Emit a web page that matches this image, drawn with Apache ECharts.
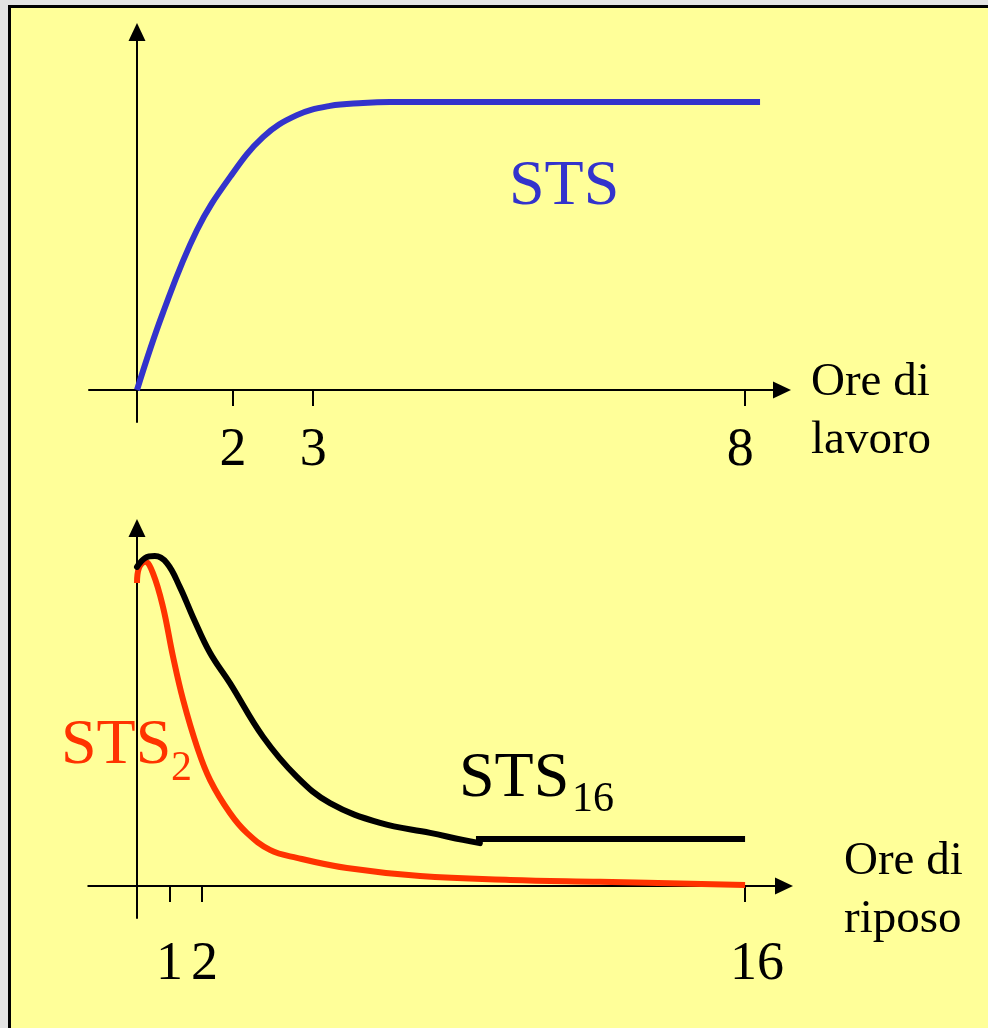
<!DOCTYPE html>
<html>
<head>
<meta charset="utf-8">
<script src="https://cdn.jsdelivr.net/npm/echarts@6/dist/echarts.min.js"></script>
<style>
  html, body { margin: 0; padding: 0; background: #e3e3e3; }
  #box { position: absolute; left: 8px; top: 5px; width: 1000px; height: 1040px;
         background: #FFFF99; border-left: 3px solid #000; border-top: 3px solid #000; }
  #chart { position: absolute; left: 0; top: 0; width: 988px; height: 1028px; }
</style>
</head>
<body>
<div id="box"></div>
<div id="chart"></div>
<script>
// ---- Top panel: STS vs ore di lavoro (schematic units) ----
const stsX = [0, 0.54, 1.25, 1.94, 2.63, 3.33, 4.02, 4.71, 5.27, 12.98];
const stsY = [0, 2.41, 5.0, 6.66, 7.91, 8.59, 8.88, 8.97, 9.0, 9.0];
const topTickPos = [2, 3.67, 12.67];
const topLabelPos = [2, 3.67, 12.57];
const topTickLabels = ['2', '3', '8'];

// ---- Bottom panel: STS2 / STS16 vs ore di riposo ----
const sts2X = [0, 0.06, 0.25, 0.49, 0.8, 1.11, 1.42, 1.85, 2.25, 2.86, 3.38, 4.09, 4.92, 6.46, 8.71, 11.48, 14.25, 18.71];
const sts2Y = [9.47, 9.94, 10.13, 9.78, 8.72, 7.16, 5.81, 4.34, 3.31, 2.28, 1.66, 1.13, 0.88, 0.56, 0.31, 0.19, 0.13, 0.03];
const sts16X = [0, 0.25, 0.55, 0.92, 1.32, 1.72, 2.25, 2.86, 3.88, 4.92, 5.94, 7.48, 9.02, 10.03, 10.55];
const sts16Y = [9.97, 10.25, 10.31, 10.09, 9.34, 8.41, 7.28, 6.34, 4.66, 3.41, 2.59, 1.97, 1.66, 1.44, 1.34];
const sts16FlatX = [10.43, 18.71];
const sts16FlatY = [1.47, 1.47];
const botTickPos = [1, 2, 18.71];
const botLabelPos = [1, 2.08, 19.08];
const botTickLabels = ['1', '2', '16'];

const zip = (xs, ys) => xs.map((x, i) => [x, ys[i]]);
const lookup = (pos, labels) => v => {
  const i = pos.findIndex(p => Math.abs(p - v) < 1e-6);
  return i >= 0 ? labels[i] : '';
};

const FONT = '"Liberation Serif", "Times New Roman", serif';
const axisLineStyle = { color: '#000', width: 2 };

function xAxisCfg(gridIndex, min, max, tickPos, labelPos, labels, margin) {
  return {
    type: 'value', gridIndex, min, max,
    axisLine: { show: true, onZero: true, lineStyle: axisLineStyle, symbol: ['none', 'triangle'], symbolSize: [17, 18] },
    axisTick: { show: true, customValues: tickPos, length: 16, lineStyle: { color: '#000', width: 2 } },
    axisLabel: { show: true, customValues: labelPos, formatter: lookup(labelPos, labels), margin,
                 color: '#000', fontFamily: FONT, fontSize: 54, hideOverlap: false },
    splitLine: { show: false }
  };
}
function yAxisCfg(gridIndex) {
  return {
    type: 'value', gridIndex, min: -1, max: 11.1875,
    axisLine: { show: true, onZero: true, lineStyle: axisLineStyle, symbol: ['none', 'triangle'], symbolSize: [17, 18] },
    axisTick: { show: false }, axisLabel: { show: false }, splitLine: { show: false }
  };
}

const txt = (x, y, text, size, color) => ({
  type: 'text', x, y, style: { text, font: size + 'px ' + FONT, fill: color, verticalAlign: 'middle' }
});

const chart = echarts.init(document.getElementById('chart'), null, { renderer: 'canvas' });
chart.setOption({
  backgroundColor: 'transparent',
  animation: false,
  grid: [
    { left: 89, right: 206, top: 32, bottom: 606 },
    { left: 88.25, right: 204, top: 528, bottom: 110 }
  ],
  xAxis: [
    xAxisCfg(0, -1, 13.4375, topTickPos, topLabelPos, topTickLabels, 2),
    xAxisCfg(1, -1.5, 19.908, botTickPos, botLabelPos, botTickLabels, 20)
  ],
  yAxis: [yAxisCfg(0), yAxisCfg(1)],
  series: [
    { name: 'STS', type: 'line', xAxisIndex: 0, yAxisIndex: 0, data: zip(stsX, stsY),
      smooth: 0.4, symbol: 'none', lineStyle: { color: '#3333CC', width: 6 } },
    { name: 'STS2', type: 'line', xAxisIndex: 1, yAxisIndex: 1, data: zip(sts2X, sts2Y),
      smooth: 0.4, symbol: 'none', lineStyle: { color: '#FF3300', width: 6 } },
    { name: 'STS16', type: 'line', xAxisIndex: 1, yAxisIndex: 1, data: zip(sts16X, sts16Y),
      smooth: 0.4, symbol: 'none', lineStyle: { color: '#000', width: 6, cap: 'round' } },
    { name: 'STS16 plateau', type: 'line', xAxisIndex: 1, yAxisIndex: 1, data: zip(sts16FlatX, sts16FlatY),
      symbol: 'none', lineStyle: { color: '#000', width: 6 } }
  ],
  graphic: [
    txt(509, 187.5, 'STS', 64, '#3333CC'),
    { type: 'text', x: 811, y: 354, style: { text: 'Ore di\nlavoro', font: '47px ' + FONT, lineHeight: 58, fill: '#000', verticalAlign: 'top' } },
    { type: 'text', x: 844, y: 833, style: { text: 'Ore di\nriposo', font: '47px ' + FONT, lineHeight: 58, fill: '#000', verticalAlign: 'top' } },
    txt(61, 746.5, 'STS', 64, '#FF3300'),
    txt(171, 768.6, '2', 42, '#FF3300'),
    txt(459, 779.5, 'STS', 64, '#000'),
    txt(572, 799.6, '16', 42, '#000')
  ]
});
</script>
</body>
</html>
